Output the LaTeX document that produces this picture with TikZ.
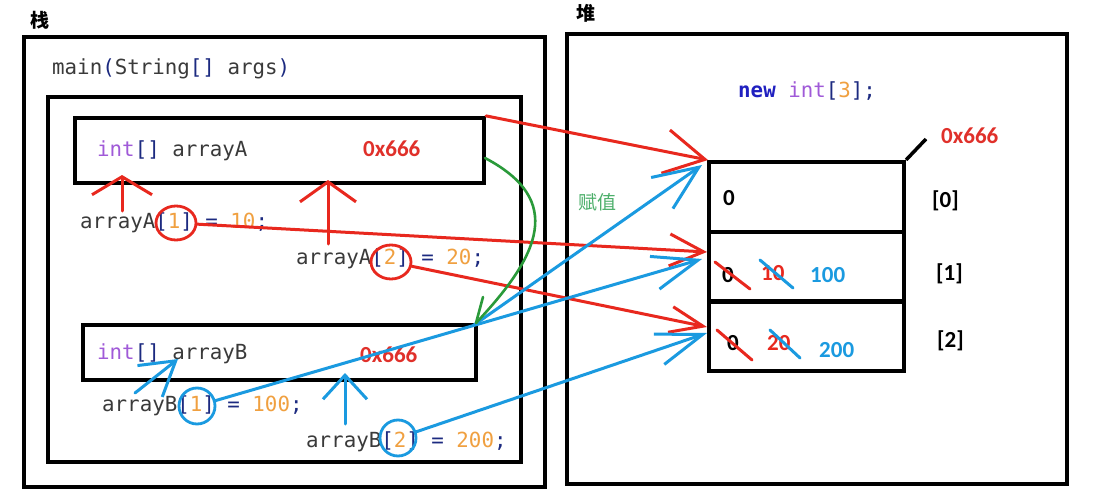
\documentclass[tikz,border=0pt]{standalone}
\usepackage{fontspec}
\usetikzlibrary{arrows.meta,calc,shapes.geometric}
\newfontfamily\codefont{DejaVu Sans Mono}
\newfontfamily\numfont{Carlito}
\newfontfamily\cjk{Noto Sans CJK SC}
\definecolor{lred}{HTML}{E8281E}
\definecolor{lblue}{HTML}{1A9AE0}
\definecolor{lgreen}{HTML}{2A9A3A}
\definecolor{tgreen}{HTML}{4CAF6A}
\definecolor{kwpurple}{HTML}{A05AD8}
\definecolor{navy}{HTML}{1C2A80}
\definecolor{orng}{HTML}{F0A040}
\definecolor{idgray}{HTML}{3A3A3A}
\definecolor{newblue}{HTML}{2020C0}
\definecolor{addr}{HTML}{E0302A}
\newcommand\cdKw[1]{\textcolor{kwpurple}{#1}}
\newcommand\cdOp[1]{\textcolor{navy}{#1}}
\newcommand\cdNum[1]{\textcolor{orng}{#1}}
\newcommand\cdId[1]{\textcolor{idgray}{#1}}
\tikzset{
  code/.style={font=\codefont\fontsize{20.8}{24}\selectfont, inner sep=0pt, anchor=base west},
  sans/.style={font=\numfont\bfseries\fontsize{23}{27}\selectfont, inner sep=0pt, anchor=base west},
  box/.style={draw=black, line width=4.2pt, inner sep=0pt},
  cell/.style={draw=black, line width=4.2pt, inner sep=0pt, minimum width=195pt, minimum height=69.7pt},
  redl/.style={draw=lred, line width=3pt, line cap=round},
  bluel/.style={draw=lblue, line width=3pt, line cap=round},
  ah/.style n args={2}{-{Straight Barb[length=#1,width=#2]}},
  rcirc/.style={ellipse, draw=lred, line width=2.8pt, minimum width=40pt, minimum height=34pt, inner sep=0pt},
  bcirc/.style={ellipse, draw=lblue, line width=2.8pt, minimum width=36pt, minimum height=36pt, inner sep=0pt},
}
\begin{document}
\begin{tikzpicture}[x=1pt,y=-1pt]
\useasboundingbox (0,0) rectangle (1104,503);
\fill[white] (0,0) rectangle (1104,503);

% titles
\node[font=\cjk\bfseries\fontsize{19}{22}\selectfont, inner sep=0pt] (tstack) at (40,20) {栈};
\node[font=\cjk\bfseries\fontsize{19}{22}\selectfont, inner sep=0pt] (theap) at (586,13) {堆};

% stack boxes
\node[box, minimum width=521pt, minimum height=450pt] (stack) at (284.5,262) {};
\node[box, minimum width=473pt, minimum height=365pt] (frame) at (284.5,279.5) {};
\node[box, minimum width=409pt, minimum height=65pt] (boxA) at (279.5,150.5) {};
\node[box, minimum width=393pt, minimum height=55pt] (boxB) at (279.5,352.5) {};

\node[code] (tmain) at (52,75) {\cdId{main}\cdOp{(}\cdId{String}\cdOp{[]} \cdId{args}\cdOp{)}};
\node[code] (tA) at (97,157) {\cdKw{int}\cdOp{[]} \cdId{arrayA}};
\node[sans, text=addr] (addrA) at (363,156) {0x666};
\node[code] (sA1) at (80,228) {\cdId{arrayA}\cdOp{[}\cdNum{1}\cdOp{]} \cdOp{=} \cdNum{10}\cdOp{;}};
\node[code] (sA2) at (296,264) {\cdId{arrayA}\cdOp{[}\cdNum{2}\cdOp{]} \cdOp{=} \cdNum{20}\cdOp{;}};
\node[code] (tB) at (97,359) {\cdKw{int}\cdOp{[]} \cdId{arrayB}};
\node[sans, text=addr] (addrB) at (360,362) {0x666};
\node[code] (sB1) at (102,411) {\cdId{arrayB}\cdOp{[}\cdNum{1}\cdOp{]} \cdOp{=} \cdNum{100}\cdOp{;}};
\node[code] (sB2) at (306,447) {\cdId{arrayB}\cdOp{[}\cdNum{2}\cdOp{]} \cdOp{=} \cdNum{200}\cdOp{;}};

% heap
\node[box, minimum width=500pt, minimum height=450pt] (heap) at (817,259) {};
\node[code] (tnew) at (738,98) {\textbf{\textcolor{newblue}{new}} \cdKw{int}\cdOp{[}\cdNum{3}\cdOp{];}};
\node[cell] (c0) at (806.5,196.85) {};
\node[cell] (c1) at (806.5,266.55) {};
\node[cell] (c2) at (806.5,336.25) {};
\coordinate (lead) at (926,139);
\draw[line width=3.5pt] (c0.north east) -- (lead);
\node[sans, text=addr] (addrH) at (941,143) {0x666};
\node[sans] (i0) at (932,207) {[0]};
\node[sans] (i1) at (936,280) {[1]};
\node[sans] (i2) at (937,347) {[2]};
\node[sans] (v0) at (723,205) {0};
\node[sans] (v1a) at (722,282) {0};
\node[sans, text=lred] (v1b) at (761,280) {10};
\node[sans, text=lblue] (v1c) at (810,282) {100};
\node[sans] (v2a) at (727,350) {0};
\node[sans, text=lred] (v2b) at (767,350) {20};
\node[sans, text=lblue] (v2c) at (819,357) {200};
\draw[redl] (715,262) -- (750,289);
\draw[bluel] (760,260) -- (793,288);
\draw[redl] (717,330) -- (752,360);
\draw[bluel] (770,330) -- (800,358);

\node[font=\cjk\fontsize{19}{22}\selectfont, text=tgreen, inner sep=0pt, anchor=west] (fz) at (578,202) {赋值};

% circles
\node[rcirc] (cA1) at (176,223) {};
\node[rcirc] (cA2) at (391,262) {};
\node[bcirc] (cB1) at (197,406) {};
\node[bcirc] (cB2) at (398,438) {};

% target points
\coordinate (t0r) at (708,160);
\coordinate (t0b) at (702,165);
\coordinate (t1r) at (707,252);
\coordinate (t1b) at (702,259);
\coordinate (t2r) at (707,327);
\coordinate (t2b) at (707,333);

% red arrows
\draw[redl, ah={40pt}{44pt}] (boxA.north east) -- (t0r);
\draw[redl, ah={34pt}{32pt}] (cA1) -- (t1r);
\draw[redl, ah={33pt}{26pt}] (cA2) -- (t2r);
\coordinate (ua1s) at (122,211);
\coordinate (ua1t) at (122,175);
\coordinate (ua2s) at (328,244);
\coordinate (ua2t) at (328,180);
\draw[redl, ah={18pt}{60pt}] (ua1s) -- (ua1t);
\draw[redl, ah={20pt}{56pt}] (ua2s) -- (ua2t);

% blue arrows
\coordinate (bc) at (474,325);
\draw[bluel, ah={45pt}{38pt}] (bc) -- (t0b);
\draw[bluel, ah={45pt}{34pt}] (cB1) -- (t1b);
\draw[bluel, ah={46pt}{32pt}] (cB2) -- (t2b);
\coordinate (ub1s) at (345,424);
\coordinate (ub1t) at (345,373);
\draw[bluel, ah={24pt}{44pt}] (ub1s) -- (ub1t);
\coordinate (ub2s) at (135,393);
\coordinate (ub2t) at (178,359);
\draw[bluel, ah={33pt}{40pt}] (ub2s) -- (ub2t);

% green curve
\coordinate (gs) at (485,158);
\coordinate (ge) at (476,323);
\coordinate (gb) at (483,297);
\draw[draw=lgreen, line width=2.6pt, line cap=round] (gs) .. controls (565,200) and (540,255) .. (ge);
\draw[draw=lgreen, line width=2.6pt, line cap=round] (gb) -- (ge);
\end{tikzpicture}
\end{document}
